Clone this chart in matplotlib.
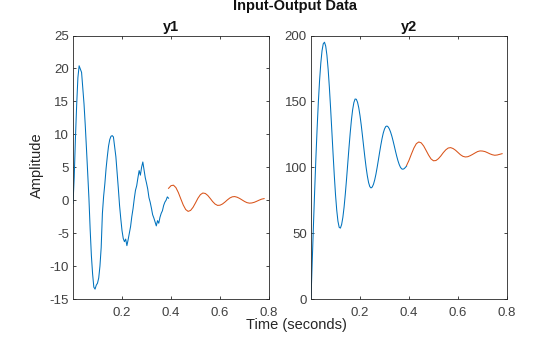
import numpy as np
import matplotlib
matplotlib.use("Agg")
import matplotlib.pyplot as plt

plt.rcParams['font.family'] = ['Liberation Sans', 'DejaVu Sans']

# ---- data ----
dt_est = 0.005          # sampling of the first (blue) experiment
t_est0 = 0.0
y1_est = [-0.5, 3.5, 9.5, 14.5, 18.6, 20.4, 19.9, 19.4, 17.0, 14.6,
          11.4, 7.8, 4.1, 0.3, -4.4, -8.4, -11.2, -13.2, -13.5, -12.9,
          -12.6, -11.8, -10.0, -7.2, -2.0, 0.6, 2.5, 4.8, 6.6, 8.2,
          9.2, 9.7, 9.8, 9.6, 8.1, 6.6, 4.2, 1.8, -0.8, -2.8,
          -4.6, -5.8, -6.3, -5.9, -6.9, -6.0, -5.0, -4.0, -2.5, -1.3,
          0.2, 1.5, 2.2, 3.4, 4.5, 3.8, 5.0, 5.8, 4.6, 3.4,
          2.6, 1.7, 0.4, -0.3, -1.2, -2.2, -2.7, -3.3, -3.9, -3.1,
          -3.5, -2.6, -2.0, -1.6, -0.8, -0.3, 0.0, 0.5, 0.3]
y2_est = [0.0, 28.3, 55.9, 82.4, 107.2, 129.6, 149.4, 165.9, 179.0, 188.4,
          193.7, 194.9, 192.0, 185.0, 174.3, 160.6, 144.8, 127.8, 110.5, 94.0,
          79.3, 67.5, 59.0, 54.4, 53.8, 56.5, 61.9, 69.7, 79.6, 90.8,
          102.8, 114.8, 126.0, 135.9, 143.7, 149.1, 151.8, 151.6, 149.3, 145.1,
          139.2, 132.1, 124.0, 115.6, 107.4, 99.8, 93.4, 88.4, 85.3, 84.3,
          85.0, 87.1, 90.4, 94.7, 99.9, 105.5, 111.3, 116.8, 121.8, 126.0,
          129.0, 130.9, 131.3, 130.6, 129.0, 126.6, 123.6, 120.0, 116.1, 112.1,
          108.3, 104.9, 102.1, 100.0, 98.8, 98.5, 98.9, 99.8, 100.9]

dt_val = 0.01           # sampling of the second (orange) experiment
t_val0 = 0.39
y1_val = [1.8, 2.2, 2.28, 1.91, 1.16, 0.20, -0.73, -1.42, -1.70,
          -1.55, -1.08, -0.41, 0.30, 0.84, 1.09,
          1.02, 0.72, 0.27, -0.21, -0.59, -0.79,
          -0.76, -0.58, -0.29, 0.04, 0.33, 0.51,
          0.55, 0.45, 0.27, 0.04, -0.19, -0.37, -0.45,
          -0.42, -0.32, -0.16, 0.01, 0.16, 0.24]
y2_val = [101.3, 105.3, 110.1, 114.6, 117.9, 119.2, 118.5, 116.1, 112.7, 109.2,
          106.3, 104.9, 105.1, 106.5, 108.6, 111.1, 113.2, 114.6, 114.9, 114.2,
          112.9, 111.2, 109.5, 108.3, 107.8, 108.0, 108.8, 109.8, 110.9, 111.9,
          112.4, 112.3, 111.9, 111.1, 110.2, 109.5, 109.1, 109.3, 109.8, 110.3]

panel_titles = ['y1', 'y2']
x_ticks = [0.2, 0.4, 0.6, 0.8]
y1_ticks = [-15, -10, -5, 0, 5, 10, 15, 20, 25]
y2_ticks = [0, 50, 100, 150, 200]

# ---- figure ----
W, H = 560, 337
fig = plt.figure(figsize=(W / 100, H / 100), dpi=100)
ax_col = '#262626'
blue = '#0072BD'
orange = '#D95319'

t_est = t_est0 + dt_est * np.arange(len(y1_est))
t_val = t_val0 + dt_val * np.arange(len(y1_val))

def px_axes(l, r, top, bot):
    return [l / W, 1 - bot / H, (r - l) / W, (bot - top) / H]

ax1 = fig.add_axes(px_axes(73, 269, 35.5, 299))
ax2 = fig.add_axes(px_axes(311, 507, 35.5, 299))

for ax, ye, yv, title, yt in [(ax1, y1_est, y1_val, panel_titles[0], y1_ticks),
                               (ax2, y2_est, y2_val, panel_titles[1], y2_ticks)]:
    ax.plot(t_est, ye, color=blue, lw=0.75)
    ax.plot(t_val, yv, color=orange, lw=0.75)
    ax.set_xlim(0.0, 0.8)
    ax.set_ylim(yt[0], yt[-1])
    ax.set_xticks(x_ticks)
    ax.set_xticklabels([f'{v:g}' for v in x_ticks])
    ax.set_yticks(yt)
    ax.set_yticklabels([f'{v:g}' for v in yt])
    ax.tick_params(direction='in', top=True, right=True, length=2.2, width=0.6,
                   colors=ax_col, labelsize=9.5, labelcolor='#404040')
    ax.tick_params(axis='x', pad=6)
    ax.tick_params(axis='y', pad=3)
    for s in ax.spines.values():
        s.set_color(ax_col)
        s.set_linewidth(0.6)
    ax.set_title(title, fontsize=10.5, fontweight='bold', color='#111111', pad=3)

fig.text(295 / W, 1 - 6 / H, 'Input-Output Data', ha='center', va='center',
         fontsize=10.5, fontweight='bold', color='#111111')
fig.text(296 / W, 1 - 325 / H, 'Time (seconds)', ha='center', va='center',
         fontsize=10.5, color='#262626')
fig.text(37 / W, 1 - 165 / H, 'Amplitude', ha='center', va='center',
         rotation=90, fontsize=10.5, color='#262626')

fig.savefig('out.png', dpi=100)
